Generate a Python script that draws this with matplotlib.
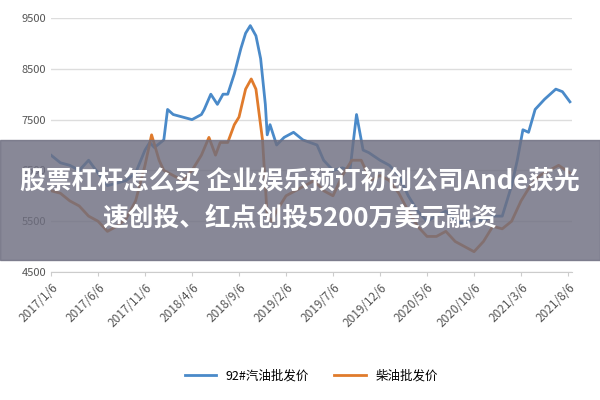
import matplotlib
matplotlib.use("Agg")
import matplotlib.pyplot as plt
from matplotlib.patches import Rectangle

plt.rcParams['font.family'] = ['Noto Sans CJK SC', 'DejaVu Sans']

tick_labels = ["2017/1/6","2017/6/6","2017/11/6","2018/4/6","2018/9/6","2019/2/6",
               "2019/7/6","2019/12/6","2020/5/6","2020/10/6","2021/3/6","2021/8/6"]
tick_months = [0,5,10,15,20,25,30,35,40,45,50,55]

gas_m = [0,1,2,3,4,5,6,7,8,9,10,10.5,11,12,12.4,13,14,15,16,16.3,17,17.7,18.3,18.8,19.5,20.2,20.7,21.2,21.8,22.3,22.8,23.0,23.3,24,24.8,25.8,26.8,28.3,29,30,31,31.8,32.5,33.2,33.8,35,36,37,38,39,40,41,42,43,44,45,46,47,48,49,49.6,50.2,50.8,51.5,52.5,53.7,54.4,55.2]
gas_v = [6800,6650,6600,6500,6700,6450,6200,6250,6300,6450,6900,7050,6950,7100,7700,7600,7550,7500,7600,7700,8000,7800,8000,8000,8400,8900,9200,9350,9150,8700,7800,7200,7400,7000,7150,7250,7100,7000,6700,6500,6550,6500,7600,6900,6850,6700,6600,6400,6000,5700,5500,5600,5700,5500,5450,5550,5500,5600,5600,6200,6700,7300,7250,7700,7900,8100,8050,7850]

die_m = [0,1,2,3,4,5,6,7,8,9,10,10.7,11.5,12,13,14,15,16,16.8,17.5,18,18.8,19.5,20,20.7,21.3,21.8,22.5,23,23.5,24,25,26,27,28,29,30,31,32,33,34,35,36,37,38,39,40,41,42,43,44,45,46,47,48,49,50,51,52,53,54,55.2]
die_v = [6100,6050,5900,5800,5600,5500,5300,5400,5550,5900,6600,7200,6700,6500,6400,6300,6500,6800,7150,6800,7050,7050,7400,7550,8100,8300,8100,7100,5600,5500,5700,6000,6100,6200,6300,6100,6000,6400,6700,6700,6300,6400,6300,6050,5700,5400,5200,5200,5300,5100,5000,4900,5100,5400,5350,5500,5900,6200,6400,6500,6600,6450]

fig = plt.figure(figsize=(6,4), dpi=100)
ax = fig.add_axes([0.085, 0.32, 0.868, 0.635])
ax.plot(gas_m, gas_v, color='#4a8ac9', lw=2, label='92#汽油批发价')
ax.plot(die_m, die_v, color='#e07b2c', lw=2, label='柴油批发价')
ax.set_ylim(4500, 9500)
ax.set_xlim(0, 55.4)
ax.set_yticks([4500,5500,6500,7500,8500,9500])
ax.tick_params(axis='y', length=0, labelsize=8, colors='#555555')
ax.set_xticks(tick_months)
ax.set_xticklabels(tick_labels, rotation=45, ha='right', rotation_mode='anchor', fontsize=8.5, color='#555555')
ax.tick_params(axis='x', length=3, color='#cccccc')
ax.grid(axis='y', color='#dddddd', lw=1)
for s in ['top','right','left']:
    ax.spines[s].set_visible(False)
ax.spines['bottom'].set_color('#cccccc')
ax.legend(loc='center', bbox_to_anchor=(0.5, -0.41), ncol=2, frameon=False, fontsize=9, handlelength=2.5)

fig.patches.append(Rectangle((0, 0.35), 1, 0.30, transform=fig.transFigure,
                             color='#6e6e80', alpha=0.82, zorder=10))
fig.text(0.5, 0.5, "股票杠杆怎么买 企业娱乐预订初创公司Ande获光\n速创投、红点创投5200万美元融资",
         ha='center', va='center', color='white', fontsize=18.5, fontweight='bold',
         linespacing=1.45, zorder=11)
fig.savefig("out.png")
